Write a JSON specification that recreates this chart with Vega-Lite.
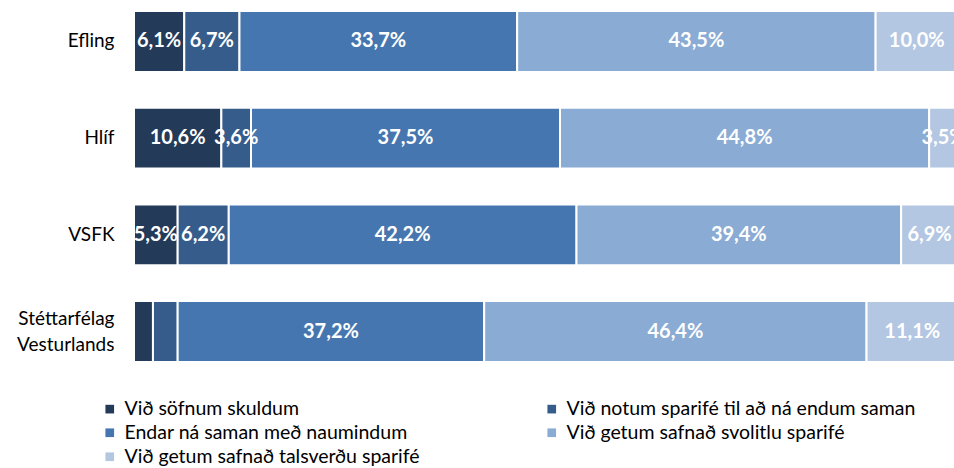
{
  "$schema": "https://vega.github.io/schema/vega-lite/v6.json",
  "autosize": {"type": "none"},
  "padding": {"left": 134, "top": 0, "right": 0, "bottom": 95},
  "width": 824,
  "height": 373,
  "background": "white",
  "config": {"view": {"stroke": null}, "font": "Lato"},
  "data": {"values": [
    {"grp": "Efling", "cat": "Við söfnum skuldum", "o": 1, "pct": 6.1, "lbl": "6,1%"},
    {"grp": "Efling", "cat": "Við notum sparifé til að ná endum saman", "o": 2, "pct": 6.7, "lbl": "6,7%"},
    {"grp": "Efling", "cat": "Endar ná saman með naumindum", "o": 3, "pct": 33.7, "lbl": "33,7%"},
    {"grp": "Efling", "cat": "Við getum safnað svolitlu sparifé", "o": 4, "pct": 43.5, "lbl": "43,5%"},
    {"grp": "Efling", "cat": "Við getum safnað talsverðu sparifé", "o": 5, "pct": 10.0, "lbl": "10,0%"},
    {"grp": "Hlíf", "cat": "Við söfnum skuldum", "o": 1, "pct": 10.6, "lbl": "10,6%"},
    {"grp": "Hlíf", "cat": "Við notum sparifé til að ná endum saman", "o": 2, "pct": 3.6, "lbl": "3,6%"},
    {"grp": "Hlíf", "cat": "Endar ná saman með naumindum", "o": 3, "pct": 37.5, "lbl": "37,5%"},
    {"grp": "Hlíf", "cat": "Við getum safnað svolitlu sparifé", "o": 4, "pct": 44.8, "lbl": "44,8%"},
    {"grp": "Hlíf", "cat": "Við getum safnað talsverðu sparifé", "o": 5, "pct": 3.5, "lbl": "3,5%"},
    {"grp": "VSFK", "cat": "Við söfnum skuldum", "o": 1, "pct": 5.3, "lbl": "5,3%"},
    {"grp": "VSFK", "cat": "Við notum sparifé til að ná endum saman", "o": 2, "pct": 6.2, "lbl": "6,2%"},
    {"grp": "VSFK", "cat": "Endar ná saman með naumindum", "o": 3, "pct": 42.2, "lbl": "42,2%"},
    {"grp": "VSFK", "cat": "Við getum safnað svolitlu sparifé", "o": 4, "pct": 39.4, "lbl": "39,4%"},
    {"grp": "VSFK", "cat": "Við getum safnað talsverðu sparifé", "o": 5, "pct": 6.9, "lbl": "6,9%"},
    {"grp": "Stéttarfélag Vesturlands", "cat": "Við söfnum skuldum", "o": 1, "pct": 2.3, "lbl": ""},
    {"grp": "Stéttarfélag Vesturlands", "cat": "Við notum sparifé til að ná endum saman", "o": 2, "pct": 3.0, "lbl": ""},
    {"grp": "Stéttarfélag Vesturlands", "cat": "Endar ná saman með naumindum", "o": 3, "pct": 37.2, "lbl": "37,2%"},
    {"grp": "Stéttarfélag Vesturlands", "cat": "Við getum safnað svolitlu sparifé", "o": 4, "pct": 46.4, "lbl": "46,4%"},
    {"grp": "Stéttarfélag Vesturlands", "cat": "Við getum safnað talsverðu sparifé", "o": 5, "pct": 11.1, "lbl": "11,1%"}
  ]},
  "encoding": {
    "y": {
      "field": "grp", "type": "nominal",
      "sort": ["Efling", "Hlíf", "VSFK", "Stéttarfélag Vesturlands"],
      "scale": {"paddingInner": 0.37, "paddingOuter": 0.114},
      "axis": {
        "title": null, "domain": false, "ticks": false, "labelPadding": 20,
        "labelFontSize": 19, "labelColor": "#000000", "labelFont": "Lato",
        "labelLineHeight": 26,
        "labelOffset": {"condition": {"test": "datum.value == 'Stéttarfélag Vesturlands'", "value": -13}, "value": 0},
        "labelExpr": "datum.value == 'Stéttarfélag Vesturlands' ? ['Stéttarfélag', 'Vesturlands'] : datum.value"
      }
    },
    "x": {
      "field": "pct", "type": "quantitative", "stack": "zero",
      "scale": {"domain": [0, 100]},
      "axis": null
    },
    "order": {"field": "o", "type": "quantitative"}
  },
  "layer": [
    {
      "mark": {"type": "bar", "stroke": "white", "strokeWidth": 2},
      "encoding": {
        "color": {
          "field": "cat", "type": "nominal",
          "sort": ["Við söfnum skuldum", "Við notum sparifé til að ná endum saman", "Endar ná saman með naumindum", "Við getum safnað svolitlu sparifé", "Við getum safnað talsverðu sparifé"],
          "scale": {
            "domain": ["Við söfnum skuldum", "Við notum sparifé til að ná endum saman", "Endar ná saman með naumindum", "Við getum safnað svolitlu sparifé", "Við getum safnað talsverðu sparifé"],
            "range": ["#233A59", "#355C8A", "#4676B0", "#8AABD3", "#B3C7E3"]
          },
          "legend": {
            "title": null, "orient": "none", "legendX": -34, "legendY": 399,
            "direction": "horizontal", "columns": 2, "columnPadding": 122,
            "rowPadding": 3, "padding": 0,
            "symbolType": "square", "symbolSize": 75, "symbolStrokeWidth": 0,
            "labelFontSize": 19.5, "labelFont": "Lato", "labelColor": "#000000",
            "labelOffset": 5, "labelLimit": 500
          }
        }
      }
    },
    {
      "mark": {"type": "text", "color": "white", "fontWeight": "bold", "fontSize": 20, "font": "Lato", "align": "center", "baseline": "middle"},
      "encoding": {
        "x": {"field": "pct", "type": "quantitative", "stack": "zero", "bandPosition": 0.5},
        "text": {"field": "lbl"}
      }
    }
  ]
}
